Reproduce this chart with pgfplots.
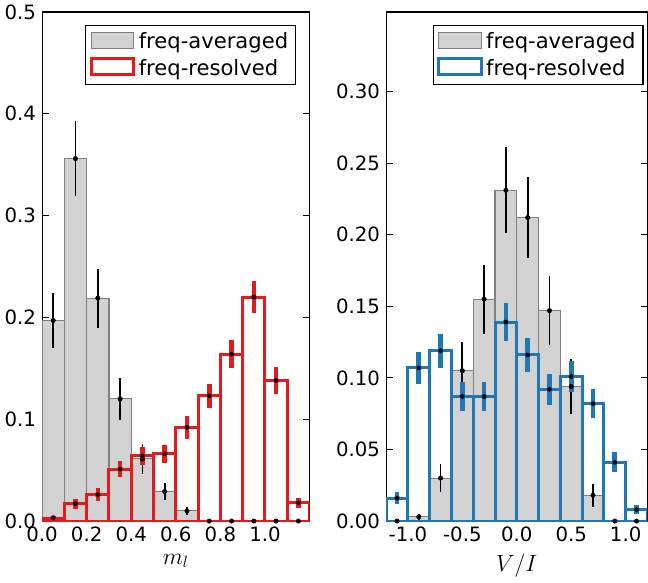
\documentclass[border=0pt]{standalone}
\usepackage{pgfplots}
\pgfplotsset{compat=1.18}
\usepackage{fontspec}
\setmainfont{DejaVu Sans}
\definecolor{myred}{RGB}{228,26,28}
\definecolor{myblue}{RGB}{31,119,180}
\begin{document}
\begin{tikzpicture}
\pgfplotsset{
  every axis/.append style={
    scale only axis, font=\fontsize{14.5}{17}\selectfont,
    /pgf/number format/assume math mode=true,
    tick align=inside, xtick pos=bottom, ytick pos=both,
    major tick length=5pt, tick style={black, line width=0.8pt},
    axis line style={line width=0.8pt},
    legend style={draw=black, line width=0.8pt, font=\fontsize{15.5}{18}\selectfont, row sep=1pt, inner sep=3pt, nodes={inner sep=2.5pt}},
    legend cell align=left,
    xlabel style={font=\fontsize{17}{19}\selectfont, yshift=-2pt},
    ymin=0, y tick label style={/pgf/number format/fixed, /pgf/number format/fixed zerofill, xshift=-1pt},
    x tick label style={/pgf/number format/fixed, /pgf/number format/fixed zerofill, /pgf/number format/precision=1, yshift=-1pt},
  },
  gbar/.style={ybar interval, fill=gray!35, draw=gray, line width=0.8pt,
    legend image code/.code={\draw[fill=gray!35, draw=gray, line width=0.8pt] (0cm,-0.18cm) rectangle (1.1cm,0.24cm);}},
}
\begin{axis}[width=196.5pt, height=374pt, xmin=0, xmax=1.2, ymax=0.5,
  xtick={0,0.2,0.4,0.6,0.8,1.0}, ytick={0,0.1,0.2,0.3,0.4,0.5},
  y tick label style={/pgf/number format/precision=1},
  xlabel={$m_l$}, legend style={at={(0.95,0.975)}, anchor=north east}]
\addplot[gbar] coordinates {(0,0.197)(0.1,0.356)(0.2,0.219)(0.3,0.120)(0.4,0.061)(0.5,0.029)(0.6,0.010)(0.7,0)(0.8,0)(0.9,0)(1.0,0)(1.1,0)(1.2,0)};
\addlegendentry{freq-averaged}
\addplot[forget plot, only marks, mark=*, mark size=1.6pt, black, error bars/.cd, y dir=both, y explicit, error mark=none, error bar style={line width=1.3pt, black}]
 table[x=x, y=y, y error=e] {
x y e
0.05 0.197 0.027
0.15 0.356 0.037
0.25 0.219 0.029
0.35 0.120 0.021
0.45 0.061 0.015
0.55 0.029 0.008
0.65 0.010 0.004
0.75 0 0
0.85 0 0
0.95 0 0
1.05 0 0
1.15 0 0
};
\addplot[ybar interval, fill=none, draw=myred, line width=2.2pt,
  legend image code/.code={\draw[draw=myred, line width=2.2pt] (0cm,-0.18cm) rectangle (1.1cm,0.24cm);}]
 coordinates {(0,0.003)(0.1,0.017)(0.2,0.026)(0.3,0.051)(0.4,0.064)(0.5,0.066)(0.6,0.092)(0.7,0.123)(0.8,0.164)(0.9,0.220)(1.0,0.138)(1.1,0.018)(1.2,0.018)};
\addlegendentry{freq-resolved}
\addplot[forget plot, only marks, mark=none, draw=myred, error bars/.cd, y dir=both, y explicit, error mark=none, error bar style={line width=3.4pt, myred}]
 table[x=x, y=y, y error=e] {
x y e
0.05 0.003 0.002
0.15 0.017 0.005
0.25 0.026 0.006
0.35 0.051 0.008
0.45 0.064 0.009
0.55 0.066 0.009
0.65 0.092 0.011
0.75 0.123 0.012
0.85 0.164 0.014
0.95 0.220 0.016
1.05 0.138 0.013
1.15 0.018 0.005
};
\end{axis}
\begin{axis}[at={(252.75pt,0)}, width=192pt, height=374pt, xmin=-1.2, xmax=1.2, ymax=0.3556,
  xtick={-1,-0.5,0,0.5,1}, ytick={0,0.05,0.1,0.15,0.2,0.25,0.3},
  y tick label style={/pgf/number format/precision=2},
  xlabel={$V/I$}, legend style={at={(0.985,0.975)}, anchor=north east}]
\addplot[gbar] coordinates {(-1.2,0)(-1.0,0.003)(-0.8,0.030)(-0.6,0.105)(-0.4,0.155)(-0.2,0.231)(0,0.212)(0.2,0.147)(0.4,0.094)(0.6,0.018)(0.8,0)(1.0,0)(1.2,0)};
\addlegendentry{freq-averaged}
\addplot[forget plot, only marks, mark=*, mark size=1.6pt, black, error bars/.cd, y dir=both, y explicit, error mark=none, error bar style={line width=1.3pt, black}]
 table[x=x, y=y, y error=e] {
x y e
-1.1 0 0
-0.9 0.003 0.002
-0.7 0.030 0.010
-0.5 0.105 0.020
-0.3 0.155 0.024
-0.1 0.231 0.030
0.1 0.212 0.028
0.3 0.147 0.024
0.5 0.094 0.019
0.7 0.018 0.008
0.9 0 0
1.1 0 0
};
\addplot[ybar interval, fill=none, draw=myblue, line width=2.2pt,
  legend image code/.code={\draw[draw=myblue, line width=2.2pt] (0cm,-0.18cm) rectangle (1.1cm,0.24cm);}]
 coordinates {(-1.2,0.016)(-1.0,0.107)(-0.8,0.119)(-0.6,0.087)(-0.4,0.087)(-0.2,0.139)(0,0.116)(0.2,0.092)(0.4,0.101)(0.6,0.082)(0.8,0.041)(1.0,0.008)(1.2,0.008)};
\addlegendentry{freq-resolved}
\addplot[forget plot, only marks, mark=none, draw=myblue, error bars/.cd, y dir=both, y explicit, error mark=none, error bar style={line width=3.4pt, myblue}]
 table[x=x, y=y, y error=e] {
x y e
-1.1 0.016 0.004
-0.9 0.107 0.011
-0.7 0.119 0.012
-0.5 0.087 0.010
-0.3 0.087 0.010
-0.1 0.139 0.013
0.1 0.116 0.012
0.3 0.092 0.011
0.5 0.101 0.011
0.7 0.082 0.010
0.9 0.041 0.007
1.1 0.008 0.003
};
\end{axis}
\end{tikzpicture}
\end{document}
